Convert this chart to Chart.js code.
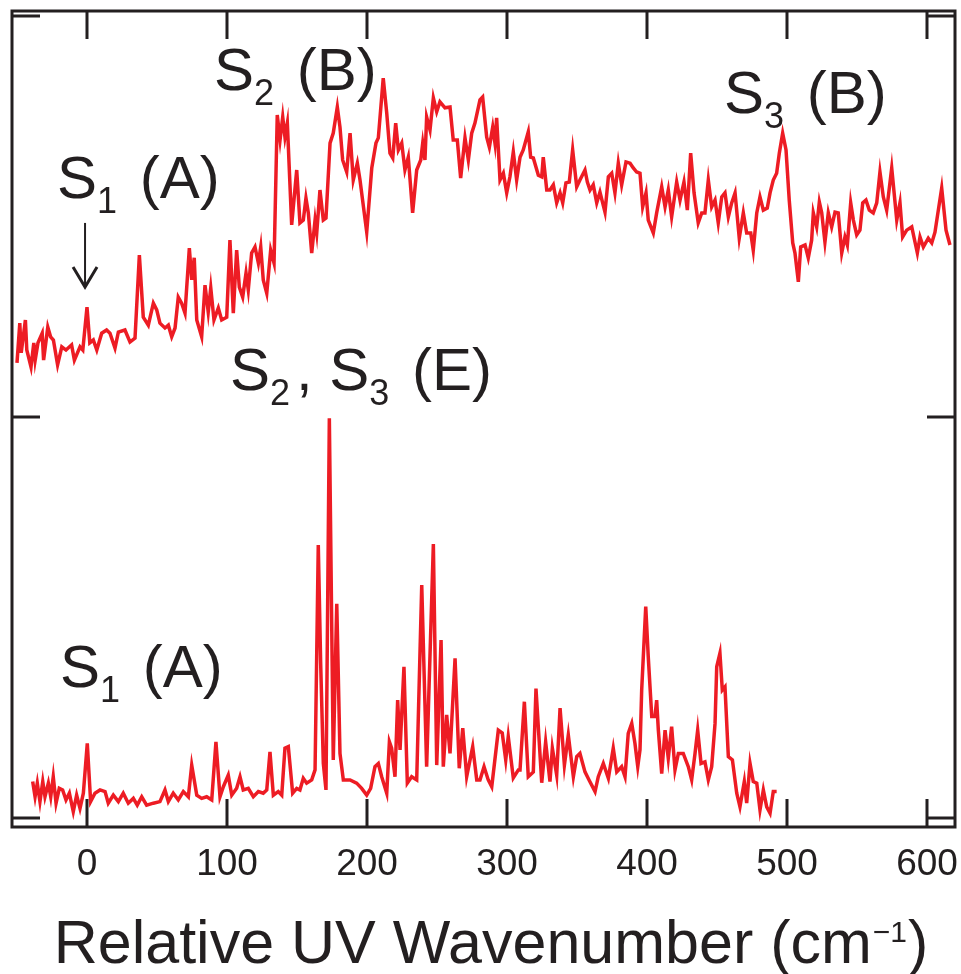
<!DOCTYPE html>
<html lang="en">
<head>
    <meta charset="UTF-8">
    <title>Relative UV Wavenumber Spectra</title>
    <script src="https://cdn.jsdelivr.net/npm/chart.js@4.4.1/dist/chart.umd.min.js"></script>
    <style>
        body {
            margin: 0;
            background: #ffffff;
        }
        #spectra {
            display: block;
        }
    </style>
</head>
<body>
    <canvas id="spectra" width="961" height="974"></canvas>

    <script>
        // upper trace (offset stack) - wavenumber in cm-1, intensity in arb. units
        const upperWavenumber = [
            -50, -48, -47, -44, -43, -40, -38, -37, -35, -32,
            -31, -28, -26, -24, -21, -18, -15, -11, -9, -5,
            -3, 0, 2, 4.5, 7, 10.5, 14, 16.4, 20, 22.4,
            27.1, 30.7, 34.3, 37.4, 40.2, 43.8, 47.4, 49.8, 52.1, 55.7,
            58.1, 60.5, 62.9, 65.2, 67.6, 70, 73.1, 74.8, 76.6, 78.4,
            81.9, 84.3, 86.6, 88.4, 90.7, 93.8, 96.2, 99.8, 102.1, 104.5,
            106.9, 108.8, 111.2, 113.6, 115.2, 117.6, 120, 122.4, 124.1, 125.9,
            128.4, 131.2, 133.6, 135.9, 137.9, 139.8, 141.4, 143.1, 146.2, 149.8,
            152.1, 154.5, 156.4, 158.1, 160.5, 162.9, 164.1, 166.4, 168.8, 170.7,
            173.6, 175.9, 178.8, 180.7, 182.6, 185.5, 187.9, 190.2, 193.1, 195,
            199.8, 203.4, 206.4, 208.1, 211.6, 214.1, 216.4, 218.4, 220.5, 222.4,
            224.8, 227.1, 229.5, 232.6, 235.5, 238.4, 239.8, 241.4, 242.6, 245,
            247.4, 249.8, 252.1, 255.7, 259.3, 261.6, 264.5, 266.9, 270, 272.4,
            274.8, 277.1, 280.7, 282.6, 285.5, 287.4, 289.8, 291.4, 292.6, 295,
            297.4, 299.8, 302.1, 304.5, 306.9, 309.3, 311.6, 315.2, 316.9, 318.8,
            322.4, 324.8, 325.9, 328.4, 330.7, 333.1, 335.5, 337.9, 339.8, 342.1,
            344.5, 346.9, 349.8, 352.1, 355.7, 357.4, 359.3, 361.6, 364.1, 366.4,
            370, 372.4, 374.8, 377.1, 379.5, 381.9, 385, 387.9, 390.2, 392.6,
            395, 396.9, 399.3, 400.9, 404.5, 406.9, 410.5, 412.9, 415.2, 417.6,
            421.2, 423.6, 426.4, 428.8, 431.2, 433.6, 436.6, 439.1, 441.4, 443.8,
            446.2, 448.6, 450.9, 453.4, 455.7, 458.1, 460.5, 462.9, 465.9, 468.8,
            471.2, 474.1, 475.9, 478.4, 480.7, 483.1, 485.9, 487.9, 490.2, 492.6,
            494.5, 496.9, 499.3, 501.6, 504.1, 505.7, 508.1, 509.8, 512.9, 515.2,
            517.6, 518.8, 521.2, 523.1, 524.8, 527.1, 529.5, 531.9, 534.3, 536.6,
            539.1, 541.4, 543.1, 545.5, 547.4, 549.8, 552.1, 554.1, 556.4, 558.8,
            561.6, 564.1, 566.4, 568.8, 571.2, 574.8, 578.4, 580.7, 582.6, 585.5,
            589.1, 593.1, 595, 597.4, 600.9, 603.4, 605.7, 610.5, 613.6, 616.4
        ];
        const upperIntensity = [
            1.135, 1.234, 1.160, 1.242, 1.167, 1.125, 1.185, 1.142, 1.185, 1.209,
            1.142, 1.224, 1.200, 1.192, 1.130, 1.175, 1.167, 1.180, 1.142, 1.175,
            1.167, 1.274, 1.185, 1.192, 1.167, 1.209, 1.217, 1.209, 1.172, 1.212,
            1.217, 1.187, 1.197, 1.404, 1.249, 1.229, 1.284, 1.267, 1.234, 1.222,
            1.229, 1.200, 1.222, 1.299, 1.284, 1.259, 1.421, 1.342, 1.397, 1.242,
            1.200, 1.329, 1.262, 1.322, 1.242, 1.272, 1.242, 1.249, 1.441, 1.259,
            1.416, 1.324, 1.299, 1.359, 1.317, 1.409, 1.424, 1.384, 1.424, 1.342,
            1.309, 1.416, 1.384, 1.753, 1.691, 1.748, 1.698, 1.733, 1.479, 1.616,
            1.484, 1.491, 1.546, 1.509, 1.409, 1.491, 1.459, 1.566, 1.491, 1.496,
            1.683, 1.708, 1.773, 1.723, 1.641, 1.611, 1.708, 1.591, 1.633, 1.591,
            1.461, 1.621, 1.683, 1.696, 1.845, 1.758, 1.658, 1.646, 1.733, 1.666,
            1.683, 1.616, 1.648, 1.509, 1.616, 1.641, 1.683, 1.641, 1.748, 1.716,
            1.796, 1.761, 1.786, 1.771, 1.773, 1.691, 1.691, 1.596, 1.696, 1.641,
            1.708, 1.733, 1.791, 1.798, 1.698, 1.673, 1.723, 1.683, 1.746, 1.591,
            1.608, 1.559, 1.599, 1.661, 1.591, 1.648, 1.666, 1.711, 1.648, 1.646,
            1.603, 1.599, 1.648, 1.566, 1.566, 1.579, 1.534, 1.559, 1.534, 1.584,
            1.586, 1.666, 1.574, 1.591, 1.616, 1.586, 1.566, 1.579, 1.534, 1.561,
            1.511, 1.599, 1.608, 1.559, 1.633, 1.579, 1.636, 1.633, 1.621, 1.611,
            1.608, 1.524, 1.559, 1.491, 1.459, 1.509, 1.574, 1.524, 1.566, 1.499,
            1.586, 1.541, 1.586, 1.516, 1.658, 1.559, 1.484, 1.509, 1.509, 1.591,
            1.524, 1.541, 1.484, 1.549, 1.559, 1.499, 1.534, 1.559, 1.446, 1.509,
            1.459, 1.459, 1.416, 1.509, 1.549, 1.516, 1.521, 1.559, 1.591, 1.608,
            1.658, 1.708, 1.666, 1.541, 1.434, 1.409, 1.337, 1.424, 1.429, 1.397,
            1.441, 1.509, 1.474, 1.536, 1.509, 1.436, 1.509, 1.474, 1.511, 1.509,
            1.409, 1.449, 1.429, 1.534, 1.491, 1.454, 1.466, 1.534, 1.541, 1.516,
            1.509, 1.534, 1.611, 1.549, 1.516, 1.621, 1.491, 1.534, 1.449, 1.466,
            1.474, 1.409, 1.449, 1.424, 1.446, 1.434, 1.461, 1.571, 1.466, 1.429
        ];

        // lower trace
        const lowerWavenumber = [
            -38.8, -37.1, -35.5, -33.6, -31.6, -30, -27.6, -25.9, -24.1, -22.1,
            -19.8, -17.4, -15, -12.6, -9.8, -7.4, -5, -2.6, 0.2, 2.6,
            5.7, 9.3, 12.9, 15.2, 18.8, 22.4, 25.9, 29.5, 33.1, 35.9,
            39.1, 42.6, 47.4, 52.1, 55.7, 58.1, 61.6, 65.2, 68.8, 72.4,
            74.8, 78.4, 81.9, 85.5, 89.1, 92.1, 95, 97.4, 100.9, 103.4,
            106.9, 109.3, 111.6, 115.2, 118.8, 122.4, 125.9, 128.4, 130.7, 133.1,
            136.6, 139.1, 141.4, 143.8, 146.9, 149.8, 152.1, 154.5, 156.9, 160.5,
            162.9, 165.2, 166.9, 168.8, 170.7, 173.1, 175.9, 178.4, 180.7, 183.1,
            187.9, 192.6, 196.2, 199.8, 202.6, 205.7, 208.1, 210.5, 214.1, 216,
            217.6, 220, 221.9, 223.6, 226.4, 228.8, 231.9, 235.5, 239.1, 242.6,
            247.4, 249.8, 252.9, 254.5, 256.9, 259.3, 262.9, 265.9, 268.4, 271.2,
            275.5, 278.4, 280.7, 283.6, 286.6, 289.1, 293.8, 296.6, 299.1, 300.9,
            304.5, 308.1, 309.3, 312.4, 315.2, 318.8, 320.7, 324.8, 327.6, 330.7,
            332.4, 335.5, 337.9, 341, 343.8, 347.4, 349.8, 352.1, 355.7, 358.6,
            362.9, 365.2, 368.8, 372.4, 375.9, 378.4, 381.9, 384.3, 386.6, 389.1,
            391.4, 393.4, 395, 396.2, 399.1, 400.9, 403.4, 405.7, 406.9, 408.1,
            410.5, 412.9, 415.2, 417.6, 420, 422.4, 425.9, 429.5, 431.9, 434.3,
            436.2, 438.6, 441.4, 443.8, 446.2, 448.6, 449.8, 452.1, 453.8, 455.7,
            458.1, 461, 464.1, 466.4, 469.5, 471.2, 473.6, 475.9, 478.4, 480.7,
            483.1, 485.5, 487.9, 490.2, 492.6
        ];
        const lowerIntensity = [
            0.091, 0.053, 0.087, 0.041, 0.091, 0.053, 0.087, 0.053, 0.103, 0.037,
            0.074, 0.070, 0.045, 0.062, 0.016, 0.057, 0.024, 0.062, 0.186, 0.041,
            0.062, 0.070, 0.066, 0.037, 0.057, 0.041, 0.062, 0.037, 0.049, 0.032,
            0.053, 0.032, 0.037, 0.041, 0.070, 0.041, 0.062, 0.045, 0.066, 0.053,
            0.132, 0.057, 0.049, 0.053, 0.045, 0.190, 0.053, 0.078, 0.107, 0.057,
            0.074, 0.103, 0.070, 0.074, 0.053, 0.066, 0.062, 0.070, 0.165, 0.057,
            0.066, 0.057, 0.174, 0.178, 0.062, 0.074, 0.070, 0.099, 0.087, 0.095,
            0.120, 0.681, 0.386, 0.136, 0.070, 0.997, 0.145, 0.534, 0.161, 0.095,
            0.095, 0.087, 0.074, 0.057, 0.074, 0.128, 0.136, 0.103, 0.062, 0.190,
            0.174, 0.103, 0.294, 0.170, 0.377, 0.087, 0.103, 0.095, 0.581, 0.128,
            0.683, 0.132, 0.444, 0.128, 0.257, 0.161, 0.398, 0.124, 0.224, 0.103,
            0.178, 0.095, 0.095, 0.128, 0.095, 0.078, 0.219, 0.212, 0.145, 0.203,
            0.100, 0.120, 0.120, 0.290, 0.103, 0.115, 0.323, 0.088, 0.190, 0.091,
            0.174, 0.107, 0.274, 0.132, 0.207, 0.103, 0.153, 0.161, 0.115, 0.095,
            0.066, 0.103, 0.136, 0.099, 0.174, 0.115, 0.128, 0.103, 0.211, 0.236,
            0.186, 0.128, 0.170, 0.319, 0.527, 0.402, 0.253, 0.253, 0.294, 0.219,
            0.111, 0.219, 0.149, 0.228, 0.120, 0.161, 0.161, 0.128, 0.095, 0.161,
            0.219, 0.136, 0.140, 0.095, 0.128, 0.236, 0.377, 0.411, 0.319, 0.327,
            0.153, 0.145, 0.062, 0.028, 0.091, 0.037, 0.136, 0.091, 0.087, 0.020,
            0.070, 0.028, 0.012, 0.066, 0.066
        ];

        const xTickValues = [0, 100, 200, 300, 400, 500, 600];
        const yTickValues = [0, 1, 2];

        // band assignments: anchor (wavenumber, intensity) + text pieces
        const bandLabels = [
            { at: [-21.4, 1.546], parts: [['S'], ['1', 'sub'], [' (A)']] },
            { at: [90.7, 1.815], parts: [['S'], ['2', 'sub'], [' (B)']] },
            { at: [455, 1.758], parts: [['S'], ['3', 'sub'], [' (B)']] },
            { at: [102.1, 1.067], parts: [['S'], ['2', 'sub'], [', S'], ['3', 'sub'], [' (E)']] },
            { at: [-19.3, 0.327], parts: [['S'], ['1', 'sub'], [' (A)']] }
        ];
        const origin0Arrow = { x: -1.4, from: 1.484, to: 1.324 };

        const traceRed = '#ed1c24';
        const ink = '#231f20';
        const fontFamily = '"Liberation Sans", Arial, Helvetica, sans-serif';

        function toPoints(xs, ys) {
            return xs.map((v, i) => ({ x: v, y: ys[i] }));
        }

        // frame with inward ticks, band labels, arrow and axis title
        const spectrumDecor = {
            id: 'spectrumDecor',
            afterDatasetsDraw(chart) {
                const { ctx, chartArea: a, scales: { x, y } } = chart;
                const tickLen = 28;
                ctx.save();
                ctx.strokeStyle = ink;
                ctx.lineWidth = 3;
                ctx.strokeRect(a.left, a.top, a.right - a.left, a.bottom - a.top);

                ctx.beginPath();
                xTickValues.forEach(v => {
                    const px = x.getPixelForValue(v);
                    ctx.moveTo(px, a.bottom); ctx.lineTo(px, a.bottom - tickLen);
                    ctx.moveTo(px, a.top); ctx.lineTo(px, a.top + tickLen);
                });
                yTickValues.forEach(v => {
                    const py = y.getPixelForValue(v);
                    ctx.moveTo(a.left, py); ctx.lineTo(a.left + tickLen, py);
                    ctx.moveTo(a.right, py); ctx.lineTo(a.right - tickLen, py);
                });
                ctx.stroke();

                // arrow pointing at the S1 origin
                const ax = x.getPixelForValue(origin0Arrow.x);
                const ay0 = y.getPixelForValue(origin0Arrow.from);
                const ay1 = y.getPixelForValue(origin0Arrow.to);
                ctx.lineWidth = 2;
                ctx.beginPath();
                ctx.moveTo(ax, ay0); ctx.lineTo(ax, ay1);
                ctx.stroke();
                ctx.lineWidth = 3;
                ctx.beginPath();
                ctx.moveTo(ax - 12, ay1 - 20); ctx.lineTo(ax, ay1); ctx.lineTo(ax + 12, ay1 - 20);
                ctx.stroke();

                // band labels with subscripts
                ctx.fillStyle = ink;
                ctx.textBaseline = 'alphabetic';
                ctx.textAlign = 'left';
                bandLabels.forEach(lbl => {
                    let cx = x.getPixelForValue(lbl.at[0]);
                    const base = y.getPixelForValue(lbl.at[1]);
                    lbl.parts.forEach(([text, kind]) => {
                        if (kind === 'sub') {
                            ctx.font = '36px ' + fontFamily;
                            ctx.fillText(text, cx, base + 15);
                            cx += ctx.measureText(text).width + 6;
                        } else {
                            ctx.font = '60px ' + fontFamily;
                            ctx.fillText(text, cx, base);
                            cx += ctx.measureText(text).width;
                        }
                    });
                });

                // x axis title with superscript
                const mainA = 'Relative UV Wavenumber (cm';
                const sup = '\u22121';
                const mainB = ')';
                ctx.font = '61px ' + fontFamily;
                const wA = ctx.measureText(mainA).width;
                const wB = ctx.measureText(mainB).width;
                ctx.font = '30px ' + fontFamily;
                const wS = ctx.measureText(sup).width + 2;
                const total = wA + wS + wB;
                let tx = 491 - total / 2;
                const tBase = 963;
                ctx.font = '61px ' + fontFamily;
                ctx.fillText(mainA, tx, tBase);
                tx += wA;
                ctx.font = '30px ' + fontFamily;
                ctx.fillText(sup, tx + 1, tBase - 21);
                tx += wS;
                ctx.font = '61px ' + fontFamily;
                ctx.fillText(mainB, tx, tBase);
                ctx.restore();
            }
        };

        new Chart(document.getElementById('spectra'), {
            type: 'line',
            data: {
                datasets: [
                    {
                        label: 'upper',
                        data: toPoints(upperWavenumber, upperIntensity),
                        borderColor: traceRed,
                        borderWidth: 3.5,
                        pointRadius: 0,
                        tension: 0,
                        fill: false
                    },
                    {
                        label: 'lower',
                        data: toPoints(lowerWavenumber, lowerIntensity),
                        borderColor: traceRed,
                        borderWidth: 3.5,
                        pointRadius: 0,
                        tension: 0,
                        fill: false
                    }
                ]
            },
            options: {
                responsive: false,
                animation: false,
                devicePixelRatio: 1,
                layout: { padding: { left: 12, right: 6, top: 11, bottom: 0 } },
                plugins: {
                    legend: { display: false },
                    tooltip: { enabled: false }
                },
                scales: {
                    x: {
                        type: 'linear',
                        position: 'bottom',
                        min: -53.57,
                        max: 620,
                        grid: { display: false, drawTicks: false },
                        border: { display: false },
                        afterBuildTicks: scale => {
                            scale.ticks = xTickValues.map(v => ({ value: v }));
                        },
                        afterFit: scale => {
                            scale.height = 147;
                            // keep the edge labels from shrinking the plot box
                            scale.paddingLeft = 0;
                            scale.paddingRight = 0;
                        },
                        ticks: {
                            color: ink,
                            font: { family: fontFamily, size: 37 },
                            padding: 16,
                            maxRotation: 0,
                            autoSkip: false
                        }
                    },
                    y: {
                        display: false,
                        min: -0.0224,
                        max: 2.0125
                    }
                }
            },
            plugins: [spectrumDecor]
        });
    </script>
</body>
</html>
